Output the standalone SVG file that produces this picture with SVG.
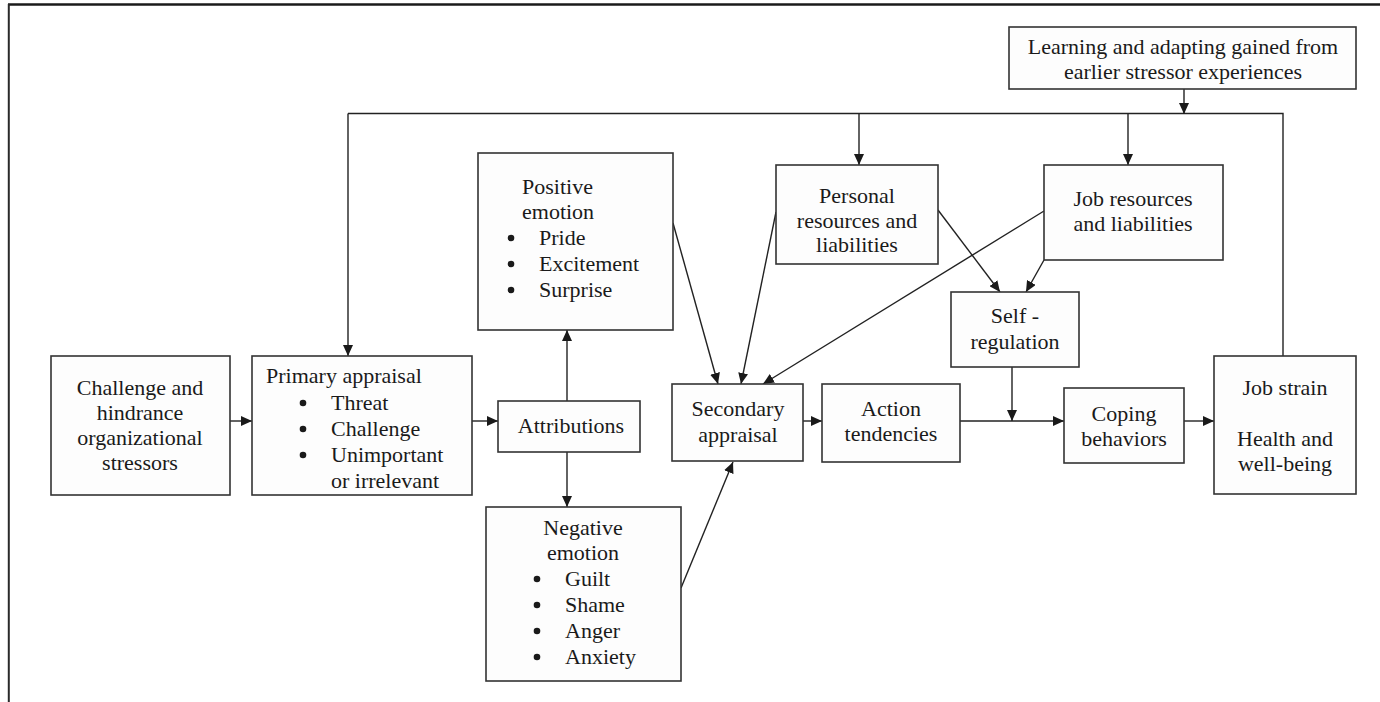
<svg xmlns="http://www.w3.org/2000/svg" width="1380" height="702" viewBox="0 0 1380 702">
<style>
.box{fill:#fdfdfd;stroke:#333;stroke-width:1.6}
.t{font-family:"Liberation Serif","Times New Roman",serif;font-size:22px;fill:#1a1a1a}
.c{text-anchor:middle}
.dot{fill:#1a1a1a}
.ln{fill:none;stroke:#222;stroke-width:1.4}
.ar{fill:none;stroke:#222;stroke-width:1.4;marker-end:url(#ah)}
</style>
<defs>
<marker id="ah" markerUnits="userSpaceOnUse" markerWidth="12" markerHeight="10" refX="11" refY="5" orient="auto">
<path d="M0,0 L11,5 L0,10 Z" fill="#1a1a1a"/>
</marker>
</defs>
<rect width="1380" height="702" fill="#ffffff"/>
<g id="frame">
<line x1="8" y1="4.5" x2="1380" y2="4.5" stroke="#1a1a1a" stroke-width="2.4"/>
<line x1="8.8" y1="4" x2="8.8" y2="702" stroke="#2a2a2a" stroke-width="2"/>
</g>
<g id="connectors">
<polyline class="ln" points="1283,356 1283,113.5 348,113.5"/>
<line class="ar" x1="348" y1="113.5" x2="348" y2="356"/>
<line class="ar" x1="1184" y1="89" x2="1184" y2="114"/>
<line class="ar" x1="859" y1="113.5" x2="859" y2="165"/>
<line class="ar" x1="1128" y1="113.5" x2="1128" y2="165"/>
<line class="ar" x1="230" y1="421" x2="252" y2="421"/>
<line class="ar" x1="472" y1="421" x2="498" y2="421"/>
<line class="ar" x1="567" y1="401" x2="567" y2="330"/>
<line class="ar" x1="567" y1="452" x2="567" y2="507"/>
<line class="ar" x1="673" y1="223" x2="718" y2="384"/>
<line class="ar" x1="776" y1="212" x2="741" y2="384"/>
<line class="ar" x1="1044" y1="211" x2="763" y2="384"/>
<line class="ar" x1="681" y1="588" x2="733" y2="462"/>
<line class="ar" x1="938" y1="210" x2="1000" y2="292"/>
<line class="ar" x1="1044" y1="260" x2="1026" y2="292"/>
<line class="ar" x1="803" y1="421" x2="822" y2="421"/>
<line class="ar" x1="960" y1="421" x2="1064" y2="421"/>
<line class="ar" x1="1012" y1="367" x2="1012" y2="421"/>
<line class="ar" x1="1184" y1="421" x2="1214" y2="421"/>
</g>
<g id="learning">
<rect class="box" x="1009" y="27" width="347" height="62"/>
<text class="t c" x="1183" y="54">Learning and adapting gained from</text>
<text class="t c" x="1183" y="79">earlier stressor experiences</text>
</g>
<g id="challenge">
<rect class="box" x="51" y="356" width="179" height="139"/>
<text class="t c" x="140" y="395">Challenge and</text>
<text class="t c" x="140" y="420">hindrance</text>
<text class="t c" x="140" y="445">organizational</text>
<text class="t c" x="140" y="470">stressors</text>
</g>
<g id="primary">
<rect class="box" x="252" y="356" width="220" height="139"/>
<text class="t" x="266" y="383">Primary appraisal</text>
<circle class="dot" cx="303" cy="403" r="3.3"/><text class="t" x="331" y="410">Threat</text>
<circle class="dot" cx="303" cy="429" r="3.3"/><text class="t" x="331" y="436">Challenge</text>
<circle class="dot" cx="303" cy="455" r="3.3"/><text class="t" x="331" y="462">Unimportant</text>
<text class="t" x="331" y="488">or irrelevant</text>
</g>
<g id="attributions">
<rect class="box" x="498" y="401" width="142" height="51"/>
<text class="t c" x="571" y="433">Attributions</text>
</g>
<g id="positive">
<rect class="box" x="478" y="153" width="195" height="177"/>
<text class="t" x="522" y="194">Positive</text>
<text class="t" x="522" y="219">emotion</text>
<circle class="dot" cx="511" cy="238" r="3.3"/><text class="t" x="539" y="245">Pride</text>
<circle class="dot" cx="511" cy="264" r="3.3"/><text class="t" x="539" y="271">Excitement</text>
<circle class="dot" cx="511" cy="290" r="3.3"/><text class="t" x="539" y="297">Surprise</text>
</g>
<g id="negative">
<rect class="box" x="486" y="507" width="195" height="174"/>
<text class="t c" x="583" y="535">Negative</text>
<text class="t c" x="583" y="560">emotion</text>
<circle class="dot" cx="537" cy="579" r="3.3"/><text class="t" x="565" y="586">Guilt</text>
<circle class="dot" cx="537" cy="605" r="3.3"/><text class="t" x="565" y="612">Shame</text>
<circle class="dot" cx="537" cy="631" r="3.3"/><text class="t" x="565" y="638">Anger</text>
<circle class="dot" cx="537" cy="657" r="3.3"/><text class="t" x="565" y="664">Anxiety</text>
</g>
<g id="personal">
<rect class="box" x="776" y="165" width="162" height="99"/>
<text class="t c" x="857" y="203">Personal</text>
<text class="t c" x="857" y="228">resources and</text>
<text class="t c" x="857" y="252">liabilities</text>
</g>
<g id="jobresources">
<rect class="box" x="1044" y="165" width="179" height="95"/>
<text class="t c" x="1133" y="206">Job resources</text>
<text class="t c" x="1133" y="231">and liabilities</text>
</g>
<g id="selfregulation">
<rect class="box" x="951" y="292" width="128" height="75"/>
<text class="t c" x="1015" y="323">Self -</text>
<text class="t c" x="1015" y="349">regulation</text>
</g>
<g id="secondary">
<rect class="box" x="672" y="384" width="131" height="77"/>
<text class="t c" x="738" y="416">Secondary</text>
<text class="t c" x="738" y="442">appraisal</text>
</g>
<g id="action">
<rect class="box" x="822" y="384" width="138" height="78"/>
<text class="t c" x="891" y="416">Action</text>
<text class="t c" x="891" y="441">tendencies</text>
</g>
<g id="coping">
<rect class="box" x="1064" y="388" width="120" height="75"/>
<text class="t c" x="1124" y="421">Coping</text>
<text class="t c" x="1124" y="446">behaviors</text>
</g>
<g id="jobstrain">
<rect class="box" x="1214" y="356" width="142" height="138"/>
<text class="t c" x="1285" y="395">Job strain</text>
<text class="t c" x="1285" y="446">Health and</text>
<text class="t c" x="1285" y="471">well-being</text>
</g>
</svg>
